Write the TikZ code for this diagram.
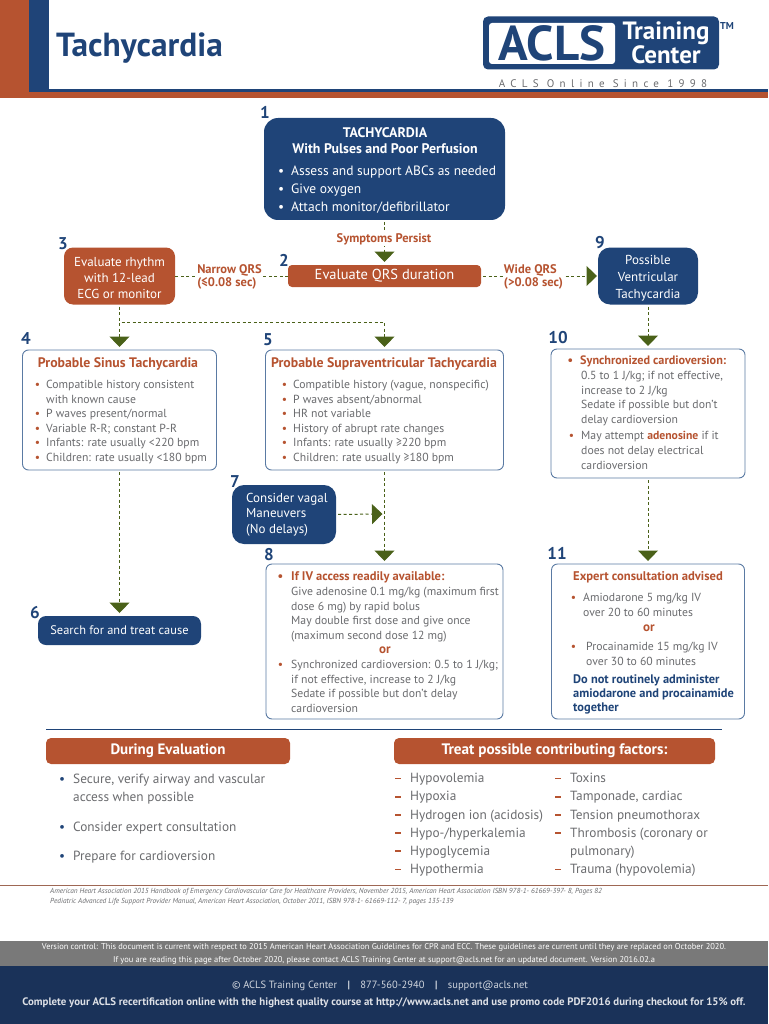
\documentclass[tikz,border=0pt]{standalone}
\usepackage{fontspec}
\setmainfont{PT Sans}
\usepackage{xcolor}
\usetikzlibrary{arrows.meta}
\definecolor{aclsblue}{HTML}{1F4478}
\definecolor{aclsnavy}{HTML}{1A3259}
\definecolor{aclsred}{HTML}{B65330}
\definecolor{aclsgreen}{HTML}{4A6119}
\definecolor{aclsgrey}{HTML}{6A6B6E}
\definecolor{aclsedge}{HTML}{5A7AA3}
\newcommand{\fsz}[2]{\fontsize{#1}{#2}\selectfont}
\newcommand{\rbul}[1][6pt]{\llap{\textcolor{aclsred}{\textbullet}\hspace{#1}}\ignorespaces}
\newcommand{\wbul}{\llap{\textcolor{white}{\textbullet}\hspace{7pt}}\ignorespaces}
\newcommand{\bbul}{\llap{\textcolor{aclsblue}{\textbullet}\hspace{8pt}}\ignorespaces}
\newcommand{\rdash}{\llap{\textcolor{aclsred}{\rule[3.2pt]{6pt}{1.8pt}}\hspace{9pt}}\ignorespaces}
\tikzstyle{bluebox}=[fill=aclsblue,text=white,rounded corners=12pt,inner sep=0pt,outer sep=0pt,align=center]
\tikzstyle{redbox}=[fill=aclsred,text=white,rounded corners=9pt,inner sep=0pt,outer sep=0pt,align=center]
\tikzstyle{whitebox}=[draw=aclsedge,line width=0.9pt,fill=white,rounded corners=6pt,inner sep=0pt,outer sep=0pt]
\tikzstyle{numlbl}=[text=aclsblue,font=\fsz{17}{17}\bfseries,inner sep=0pt]
\tikzstyle{boxhead}=[text=aclsred,font=\fsz{13.8}{15}\bfseries,inner sep=0pt]
\tikzstyle{bodytxt}=[text=aclsgrey,font=\fsz{11.7}{14.6},align=left,anchor=north west,inner sep=0pt]
\tikzstyle{listtxt}=[text=aclsgrey,font=\fsz{13.3}{18.2},align=left,anchor=north west,inner sep=0pt]
\tikzstyle{qrslbl}=[text=aclsred,fill=white,font=\fsz{12.5}{12.5}\bfseries,inner sep=1pt,align=left]
\tikzstyle{conn}=[draw=aclsgreen,line width=1pt,dash pattern=on 3pt off 2.5pt,shorten >=3pt,shorten <=2pt,-{Triangle[width=20pt,length=10.5pt,fill=aclsgreen]}]
\tikzstyle{plainconn}=[draw=aclsgreen,line width=1pt,dash pattern=on 3pt off 2.5pt]

\begin{document}
\begin{tikzpicture}[x=1pt,y=-1pt]
\useasboundingbox (0,0) rectangle (768,1024);
% header
\fill[aclsred] (0,0) rectangle (29,98);
\fill[aclsred] (0,92) rectangle (768,98);
\fill[aclsblue] (29,0) rectangle (49,92);
\fill[aclsblue] (29,89) rectangle (768,92);
\node[text=aclsblue,font=\fsz{33.4}{33}\bfseries,anchor=west,inner sep=0pt] (title) at (56,48) {Tachycardia};
\node[fill=aclsblue,rounded corners=5pt,minimum width=236pt,minimum height=53pt,inner sep=0pt] (logo) at (601,43) {};
\node[fill=white,rounded corners=3pt,minimum width=126pt,minimum height=41pt,inner sep=0pt,text=aclsblue,font=\fsz{49}{49}\bfseries] (logoacls) at (552,43.5) {ACLS};
\node[text=white,font=\fsz{25}{20}\bfseries,align=center,inner sep=0pt] (logotxt) at (666,43) {Training\\Center};
\node[text=aclsblue,font=\fsz{10}{10}\bfseries,inner sep=0pt] (logotm) at (727,26) {TM};
\node[text=aclsgrey,font=\fsz{11}{11}\addfontfeature{LetterSpace=48},inner sep=0pt] (logosub) at (603,83.5) {ACLS Online Since 1998};
% flow boxes
\node[bluebox,rounded corners=14pt,minimum width=241pt,minimum height=102pt] (box1) at (384.5,169) {};
\node[text=white,font=\fsz{13.9}{15.5}\bfseries,align=center,inner sep=0pt] (box1head) at (385,140.5) {TACHYCARDIA\\With Pulses and Poor Perfusion};
\node[text=white,font=\fsz{13.5}{17.6},align=left,anchor=north west,inner sep=0pt] (box1txt) at (291,166) {\wbul Assess and support ABCs as needed\\ \wbul Give oxygen\\ \wbul Attach monitor/defibrillator};
\node[redbox,rounded corners=4pt,minimum width=193pt,minimum height=22pt,font=\fsz{14.5}{16}] (box2) at (384.5,276) {Evaluate QRS duration};
\node[redbox,minimum width=111pt,minimum height=57pt,font=\fsz{13}{16.2}] (box3) at (119.5,276) {\rule{0pt}{13pt}Evaluate rhythm\\with 12-lead\\ECG or monitor};
\node[bluebox,minimum width=100pt,minimum height=57pt,font=\fsz{13}{17}] (box9) at (648,276) {\rule{0pt}{13pt}Possible\\Ventricular\\Tachycardia};
\node[whitebox,minimum width=194pt,minimum height=120pt] (box4) at (119.5,410) {};
\node[boxhead] (box4head) at (118,364) {Probable Sinus Tachycardia};
\node[bodytxt] (box4txt) at (46,380) {\rbul Compatible history consistent\\with known cause\\ \rbul P waves present/normal\\ \rbul Variable R-R; constant P-R\\ \rbul Infants: rate usually <220 bpm\\ \rbul Children: rate usually <180 bpm};
\node[whitebox,minimum width=238pt,minimum height=120pt] (box5) at (384.5,410) {};
\node[boxhead] (box5head) at (384,364) {Probable Supraventricular Tachycardia};
\node[bodytxt] (box5txt) at (293,380) {\rbul Compatible history (vague, nonspecific)\\ \rbul P waves absent/abnormal\\ \rbul HR not variable\\ \rbul History of abrupt rate changes\\ \rbul Infants: rate usually ≥220 bpm\\ \rbul Children: rate usually ≥180 bpm};
\node[whitebox,minimum width=194pt,minimum height=129pt] (box10) at (648,413.5) {};
\node[boxhead,anchor=west,font=\fsz{12.2}{15}\bfseries] (box10head) at (580,361) {\rbul[7pt] Synchronized cardioversion:};
\node[bodytxt] (box10txt) at (581,371) {0.5 to 1 J/kg; if not effective,\\increase to 2 J/kg\\Sedate if possible but don't\\delay cardioversion\\[2pt] \rbul[7pt] May attempt \textcolor{aclsred}{\textbf{adenosine}} if it\\does not delay electrical\\cardioversion};
\node[bluebox,minimum width=104pt,minimum height=59pt] (box7) at (284,514.5) {};
\node[text=white,font=\fsz{13}{15.6},align=left,anchor=west,inner sep=0pt] (box7txt) at (246,514.5) {Consider vagal\\Maneuvers\\(No delays)};
\node[bluebox,rounded corners=8pt,minimum width=163pt,minimum height=29pt,font=\fsz{12.4}{15}] (box6) at (119.5,630.5) {Search for and treat cause};
\node[whitebox,minimum width=237pt,minimum height=155pt] (box8) at (384.5,641.5) {};
\node[boxhead,anchor=west,font=\fsz{12.5}{15}\bfseries] (box8head) at (291,577) {\rbul[8pt] If IV access readily available:};
\node[bodytxt] (box8txt) at (291,587) {Give adenosine 0.1 mg/kg (maximum first\\dose 6 mg) by rapid bolus\\May double first dose and give once\\(maximum second dose 12 mg)};
\node[boxhead,font=\fsz{13}{15}\bfseries] (box8or) at (385,650) {or};
\node[bodytxt] (box8txt2) at (291,660) {\rbul[8pt] Synchronized cardioversion: 0.5 to 1 J/kg;\\if not effective, increase to 2 J/kg\\Sedate if possible but don't delay\\cardioversion};
\node[whitebox,minimum width=193pt,minimum height=155pt] (box11) at (648,641.5) {};
\node[boxhead,font=\fsz{12.6}{15}\bfseries] (box11head) at (648,577) {Expert consultation advised};
\node[bodytxt] (box11txt) at (583,593) {\rbul[7pt] Amiodarone 5 mg/kg IV\\over 20 to 60 minutes};
\node[boxhead,font=\fsz{13}{15}\bfseries] (box11or) at (649,628) {or};
\node[bodytxt] (box11txt2) at (586,642) {\rbul[10pt] Procainamide 15 mg/kg IV\\over 30 to 60 minutes};
\node[text=aclsblue,font=\fsz{12.4}{14.2}\bfseries,align=left,anchor=north west,inner sep=0pt] (box11note) at (573,674.5) {Do not routinely administer\\amiodarone and procainamide\\together};
% step numbers
\node[numlbl] (num1) at (265,112) {1};
\node[numlbl] (num2) at (284,260) {2};
\node[numlbl] (num3) at (63,244) {3};
\node[numlbl] (num4) at (26,339) {4};
\node[numlbl] (num5) at (268,340) {5};
\node[numlbl] (num6) at (35,613) {6};
\node[numlbl] (num7) at (235,482) {7};
\node[numlbl] (num8) at (269,555) {8};
\node[numlbl] (num9) at (600,243) {9};
\node[numlbl] (num10) at (558,338) {10};
\node[numlbl] (num11) at (557,553) {11};
% connectors
\coordinate (branch) at (119.5,322);
\coordinate (tip7) at (382.5,514);
\draw[conn] (box1.south) -- (box2.north);
\draw[plainconn] (box2.west) -- (box3.east);
\draw[conn,shorten >=1pt] (box2.east) -- (box9.west);
\draw[conn] (box3.south) -- (box4.north);
\draw[conn] (branch) -| (box5.north);
\draw[conn] (box9.south) -- (box10.north);
\draw[conn] (box4.south) -- (box6.north);
\draw[conn] (box5.south) -- (box8.north);
\draw[conn,shorten >=0pt] (box7.east) -- (tip7);
\draw[conn] (box10.south) -- (box11.north);
\node[qrslbl] (symlbl) at (384,239.5) {Symptoms Persist};
\node[qrslbl] (narrowlbl) at (229.5,277) {Narrow QRS\\(≤0.08 sec)};
\node[qrslbl] (widelbl) at (533.5,277) {Wide QRS\\(>0.08 sec)};
% lower panel
\draw[aclsblue,line width=0.8pt] (46,729) -- (722,729);
\node[redbox,rounded corners=5pt,minimum width=244pt,minimum height=26pt,font=\fsz{15}{16}\bfseries] (evalhead) at (168,751) {During Evaluation};
\node[redbox,rounded corners=5pt,minimum width=321pt,minimum height=26pt,font=\fsz{15.2}{16}\bfseries] (treathead) at (554.5,751) {Treat possible contributing factors:};
\node[listtxt] (evaltxt) at (73,774) {\bbul Secure, verify airway and vascular\\access when possible\\[11pt] \bbul Consider expert consultation\\[11.5pt] \bbul Prepare for cardioversion};
\node[listtxt] (treatone) at (410,773) {\rdash Hypovolemia\\ \rdash Hypoxia\\ \rdash Hydrogen ion (acidosis)\\ \rdash Hypo-/hyperkalemia\\ \rdash Hypoglycemia\\ \rdash Hypothermia};
\node[listtxt] (treattwo) at (570,773) {\rdash Toxins\\ \rdash Tamponade, cardiac\\ \rdash Tension pneumothorax\\ \rdash Thrombosis (coronary or\\pulmonary)\\ \rdash Trauma (hypovolemia)};
% footer
\draw[aclsred!55!gray,line width=1pt] (0,885) -- (768,885);
\node[text=aclsgrey,font=\fsz{7.3}{10}\itshape,align=left,anchor=north west,inner sep=0pt] (refs) at (50,888.5) {American Heart Association 2015 Handbook of Emergency Cardiovascular Care for Healthcare Providers, November 2015, American Heart Association ISBN 978-1- 61669-397- 8, Pages 82\\Pediatric Advanced Life Support Provider Manual, American Heart Association, October 2011, ISBN 978-1- 61669-112- 7, pages 135-139};
\node[fill=gray!95!black,minimum width=768pt,minimum height=25pt,inner sep=0pt] (version) at (384,953.5) {};
\node[text=white,font=\fsz{8.45}{13},align=center,inner sep=0pt] (versiontxt) at (384,954) {Version control: This document is current with respect to 2015 American Heart Association Guidelines for CPR and ECC. These guidelines are current until they are replaced on October 2020.\\If you are reading this page after October 2020, please contact ACLS Training Center at support@acls.net for an updated document. Version 2016.02.a};
\node[fill=aclsnavy,minimum width=768pt,minimum height=58pt,inner sep=0pt] (band) at (384,995) {};
\node[text=white!80!aclsnavy,font=\fsz{10.5}{12},inner sep=0pt] (contact) at (380,986) {© ACLS Training Center\quad\textbf{|}\quad 877-560-2940\quad\textbf{|}\quad support@acls.net};
\node[text=white!85!aclsnavy,font=\fsz{10.85}{12}\bfseries,inner sep=0pt] (promo) at (384,1003) {Complete your ACLS recertification online with the highest quality course at http://www.acls.net and use promo code PDF2016 during checkout for 15\% off.};
\end{tikzpicture}
\end{document}
